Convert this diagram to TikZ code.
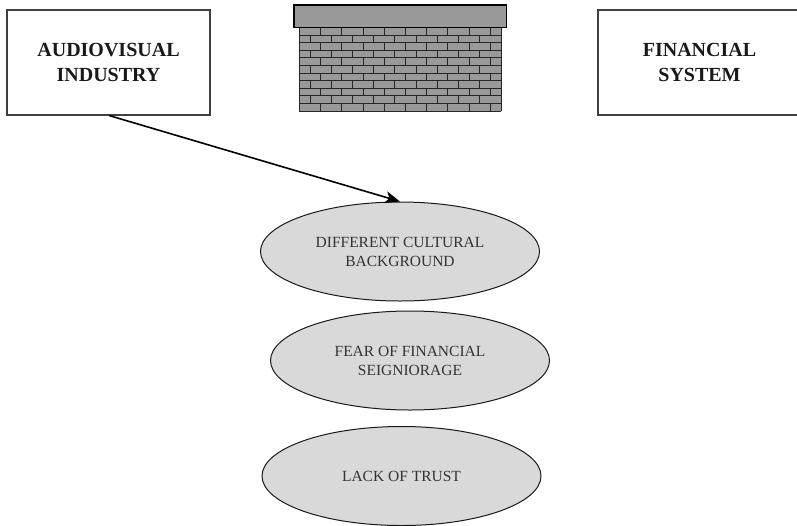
\documentclass[tikz,border=0pt]{standalone}
\usepackage{fontspec}
\setmainfont{Liberation Serif}
\usetikzlibrary{arrows.meta}
\usetikzlibrary{shapes.geometric}

\tikzset{
  headbox/.style={draw=black!75,line width=1.1pt,fill=white,minimum width=203,minimum height=105,align=center,font=\fontsize{20}{25}\selectfont\bfseries,text=black!90,inner sep=0pt},
  barrier/.style={draw=black!90,ellipse,fill=black!15,line width=1pt,minimum width=279,minimum height=99,align=center,font=\fontsize{15.5}{19}\selectfont,text=black!80,inner sep=0pt},
}

\begin{document}
\begin{tikzpicture} [x=1pt,y=-1pt]
\useasboundingbox (0,0) rectangle (797,525);

\node[headbox] (audio) at (108.5,62.5) {AUDIOVISUAL\\INDUSTRY};
\node[headbox] (finance) at (699.5,62.5) {FINANCIAL\\SYSTEM};

% wall
\fill[black!40] (299,27) rectangle (501,111);
\foreach \r [evaluate=\r as \ry using 27.5+7.6*\r] in {0,...,11} \draw[black!85,line width=1pt] (299,\ry) -- (501,\ry);
\foreach \r in {0,2,...,10} \foreach \b in {1,...,9} \draw[black!85,line width=.9pt] (299.5+21.2*\b,27.5+7.6*\r) --++(0,7.6);
\foreach \r in {1,3,...,9} \foreach \b in {0,...,8} \draw[black!85,line width=.9pt] (310+21.2*\b,27.5+7.6*\r) --++(0,7.6);
\draw[black!85,line width=1pt] (299,27.5) -- (299,111.1) (501,27.5) -- (501,111.1);
\draw[black,line width=1.1pt,fill=black!40] (294,5) rectangle (506.5,27.5);

\node[barrier] (cultural) at (400,251.5) {DIFFERENT CULTURAL\\BACKGROUND};
\node[barrier] (fear) at (410,360.5) {FEAR OF FINANCIAL\\SEIGNIORAGE};
\node[barrier] (trust) at (401.5,476) {LACK OF TRUST};

\coordinate (start) at (109,115.5);
\draw[-{Stealth[length=15,width=12,inset=4]},line width=1.6pt,black] (start) -- (cultural.north);

\end{tikzpicture}
\end{document}
